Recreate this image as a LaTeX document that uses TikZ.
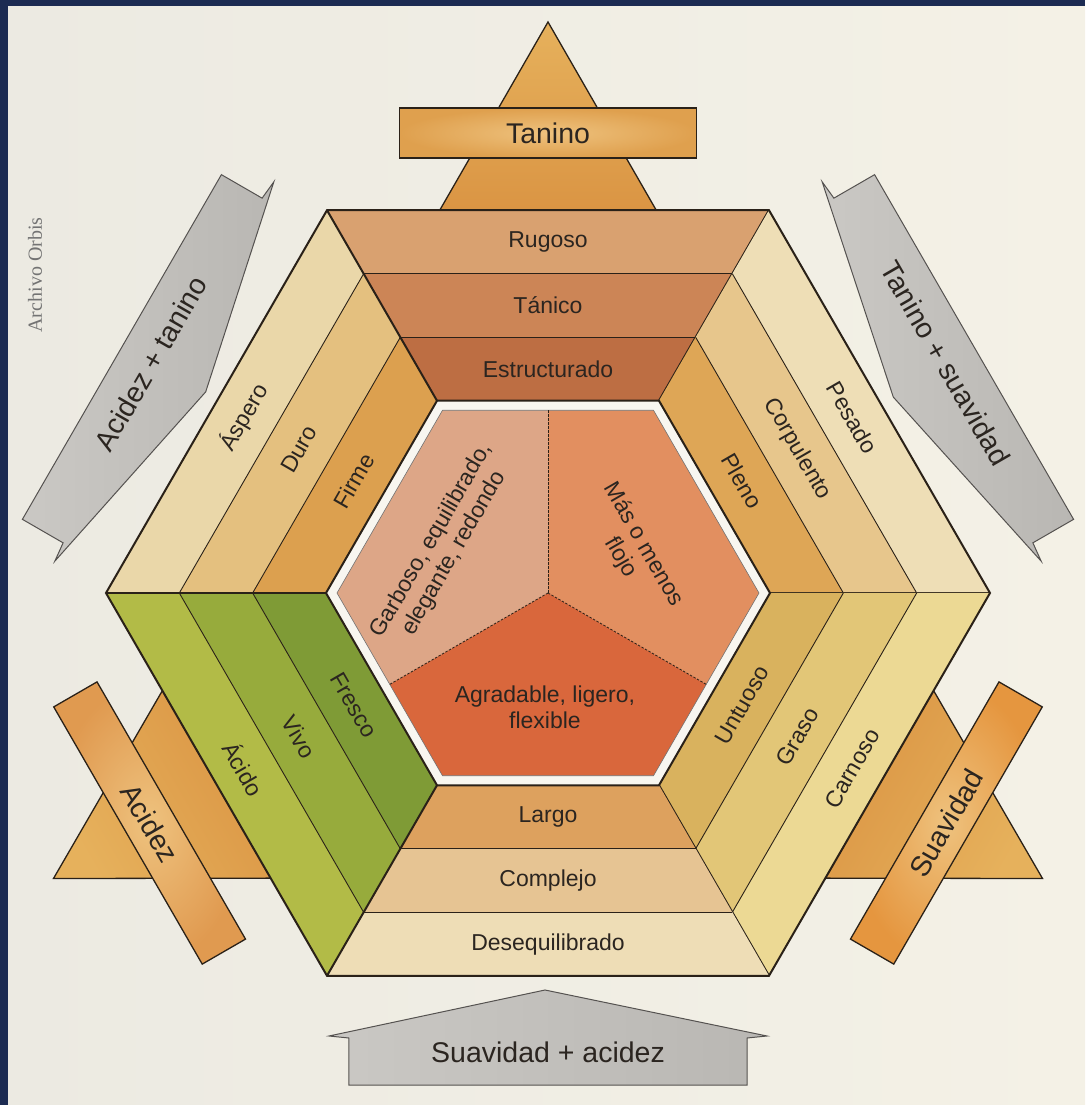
\documentclass[tikz,border=0pt]{standalone}
\usepackage{fontspec}
\setmainfont{Liberation Sans}
\newfontfamily\orbisfont{Liberation Serif}
\definecolor{navy}{HTML}{1C2B52}
\definecolor{paperL}{HTML}{ECEAE2}
\definecolor{paperR}{HTML}{F4F1E6}
\definecolor{ink}{HTML}{2B2520}
\definecolor{edge}{HTML}{2A2118}
\definecolor{rugA}{HTML}{D9A170}\definecolor{rugB}{HTML}{CC8556}\definecolor{rugC}{HTML}{BD6E43}
\definecolor{aspA}{HTML}{EAD7A9}\definecolor{aspB}{HTML}{E4C07F}\definecolor{aspC}{HTML}{DCA04F}
\definecolor{pesA}{HTML}{EEDEB6}\definecolor{pesB}{HTML}{E7C68C}\definecolor{pesC}{HTML}{DEA656}
\definecolor{acA}{HTML}{B2BB47}\definecolor{acB}{HTML}{97AB3C}\definecolor{acC}{HTML}{7F9B36}
\definecolor{carA}{HTML}{ECD994}\definecolor{carB}{HTML}{E2C677}\definecolor{carC}{HTML}{D9B25E}
\definecolor{desA}{HTML}{EEDDB6}\definecolor{desB}{HTML}{E6C493}\definecolor{desC}{HTML}{DDA15E}
\definecolor{garb}{HTML}{DDA687}\definecolor{masf}{HTML}{E28F60}\definecolor{agra}{HTML}{D9673C}
\definecolor{ring}{HTML}{F8F6F0}
\definecolor{triTop}{HTML}{E6B15C}\definecolor{triBot}{HTML}{DA9443}
\definecolor{boxIn}{HTML}{EEC27E}\definecolor{boxA}{HTML}{DFA04E}\definecolor{boxB}{HTML}{E09A50}\definecolor{boxC}{HTML}{E5963F}
\definecolor{grayL}{HTML}{CAC8C4}\definecolor{grayR}{HTML}{B9B7B3}\definecolor{grayedge}{HTML}{555250}
\begin{document}
\begin{tikzpicture}[x=1pt,y=1pt,line join=miter,
  bandlab/.style={text=ink,font=\fontsize{23}{26}\selectfont,inner sep=0pt,align=center},
  biglab/.style={text=ink,font=\fontsize{28.5}{30}\selectfont,inner sep=0pt},
  seplin/.style={draw=edge,line width=0.9pt},
  heavylin/.style={draw=edge,line width=2pt},
  trishape/.style={draw=edge,line width=1.3pt},
  grayshape/.style={left color=grayL,right color=grayR,draw=grayedge,line width=1pt}]
\useasboundingbox (-548,-512) rectangle (537,593);
% background
\shade[left color=paperL,right color=paperR] (-548,-512) rectangle (537,593);
\fill[navy] (-548,-512) rectangle (-540,593);
\fill[navy] (-548,587) rectangle (537,593);
\node[rotate=90,text=black!55,font=\orbisfont\fontsize{20}{22}\selectfont,inner sep=0pt] (orbis) at (-513,318) {Archivo Orbis};

% gray arrows
\foreach \t/\r/\txt in {270/0/{Suavidad + acidez},150/60/{Acidez + tanino},30/-60/{Tanino + suavidad}}{
  \begin{scope}[shift={(\t:468)},rotate=\t+90]
    \shade[grayshape] (-199,-24) -- (-199,23) -- (-219,25) -- (-3,71) -- (219,25) -- (199,23) -- (199,-24) -- cycle;
  \end{scope}
  \node[biglab,rotate=\r] (g\t) at (\t:459) {\txt};
}

% orange triangles and label boxes
\foreach \t/\r/\txt/\bc in {90/0/Tanino/boxA,210/-60/Acidez/boxB,330/60/Suavidad/boxC}{
  \begin{scope}[rotate=\t-90]
    \shade[trishape,top color=triTop,bottom color=triBot,shading angle=\t-90] (-111,378) -- (0,571) -- (111,378) -- cycle;
    \shade[trishape,inner color=boxIn,outer color=\bc] (-148.5,435) rectangle (148.5,485);
  \end{scope}
  \node[biglab,rotate=\r] (t\t) at (\t:460) {\txt};
}

% hexagon bands
\foreach \t/\ca/\cb/\cc/\la/\lb/\lc/\r in {
  90/rugA/rugB/rugC/Rugoso/Tánico/Estructurado/0,
  150/aspA/aspB/aspC/Áspero/Duro/Firme/60,
  30/pesA/pesB/pesC/Pesado/Corpulento/Pleno/-60,
  210/acA/acB/acC/Ácido/Vivo/Fresco/-60,
  330/carA/carB/carC/Carnoso/Graso/Untuoso/60,
  270/desA/desB/desC/Desequilibrado/Complejo/Largo/0}{
  \fill[\ca] (\t-30:442) -- (\t+30:442) -- (\t+30:368.67) -- (\t-30:368.67) -- cycle;
  \fill[\cb] (\t-30:368.67) -- (\t+30:368.67) -- (\t+30:295.33) -- (\t-30:295.33) -- cycle;
  \fill[\cc] (\t-30:295.33) -- (\t+30:295.33) -- (\t+30:222) -- (\t-30:222) -- cycle;
  \path[seplin] (\t-30:368.67) -- (\t+30:368.67);
  \path[seplin] (\t-30:295.33) -- (\t+30:295.33);
  \path[heavylin] (\t-30:442) -- (\t-30:222);
  \node[bandlab,rotate=\r] (b\t a) at (\t:351.05) {\la};
  \node[bandlab,rotate=\r] (b\t b) at (\t:287.55) {\lb};
  \node[bandlab,rotate=\r] (b\t c) at (\t:224.05) {\lc};
}
\path[heavylin] (0:442) -- (60:442) -- (120:442) -- (180:442) -- (240:442) -- (300:442) -- cycle;

% white ring and inner hexagon
\path[fill=ring,heavylin] (0:222) -- (60:222) -- (120:222) -- (180:222) -- (240:222) -- (300:222) -- cycle;
\fill[garb] (0,0) -- (90:182.7) -- (120:211) -- (180:211) -- (210:182.7) -- cycle;
\fill[masf] (0,0) -- (330:182.7) -- (0:211) -- (60:211) -- (90:182.7) -- cycle;
\fill[agra] (0,0) -- (210:182.7) -- (240:211) -- (300:211) -- (330:182.7) -- cycle;
\draw[black!55,line width=0.6pt] (0:211) -- (60:211) -- (120:211) -- (180:211) -- (240:211) -- (300:211) -- cycle;
\coordinate (ctr) at (0,0);
\foreach \a in {90,210,330}{
  \draw[edge,line width=0.8pt,dash pattern=on 2.5pt off 1.5pt] (ctr) -- (\a:182.7);
}
\node[bandlab,rotate=60] (garboso) at (-105,46) {Garboso, equilibrado,\\elegante, redondo};
\node[bandlab,rotate=-60] (masomenos) at (84,42) {Más o menos\\flojo};
\node[bandlab] (agradable) at (-3,-114) {Agradable, ligero,\\flexible};
\end{tikzpicture}
\end{document}
